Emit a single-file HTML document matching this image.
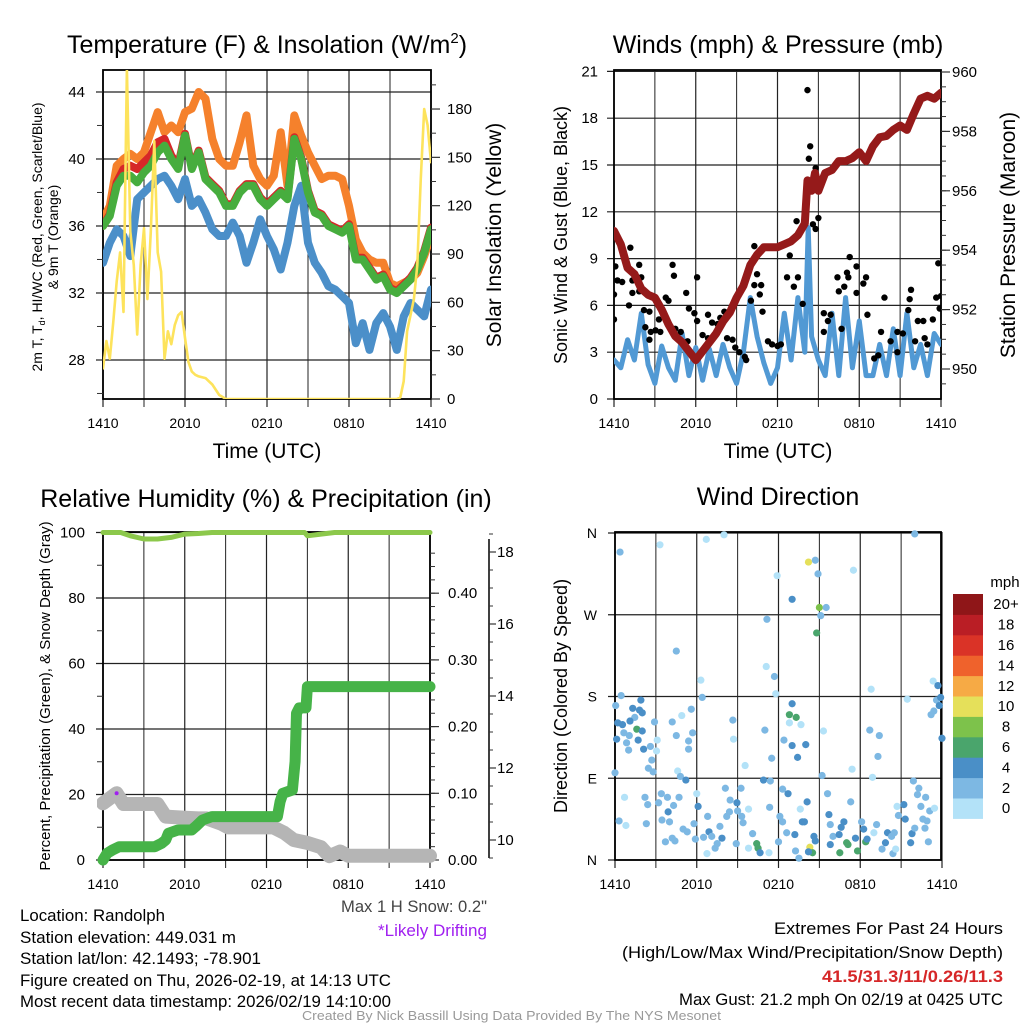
<!DOCTYPE html>
<html><head><meta charset="utf-8"><style>
html,body{margin:0;padding:0;background:#fff;}
svg{display:block;font-family:"Liberation Sans",sans-serif;}
</style></head><body>
<svg id="chart" xmlns="http://www.w3.org/2000/svg" width="1024" height="1024" viewBox="0 0 1024 1024">
<defs>
<clipPath id="c1"><rect x="103" y="70" width="328" height="329"/></clipPath>
<clipPath id="c2"><rect x="614" y="70" width="327" height="329"/></clipPath>
<clipPath id="c3"><rect x="97" y="526" width="340" height="340"/></clipPath>
<clipPath id="c4"><rect x="610" y="528" width="336" height="336"/></clipPath>
</defs>
<rect width="1024" height="1024" fill="#fff"/>
<text x="267" y="53" font-size="25" text-anchor="middle">Temperature (F) &amp; Insolation (W/m<tspan font-size="15" dy="-10">2</tspan><tspan dy="10">)</tspan></text>
<text x="778" y="53" font-size="25" text-anchor="middle">Winds (mph) &amp; Pressure (mb)</text>
<text x="266" y="507" font-size="25" text-anchor="middle">Relative Humidity (%) &amp; Precipitation (in)</text>
<text x="778" y="505" font-size="25" text-anchor="middle">Wind Direction</text>
<text x="267" y="458" font-size="21" text-anchor="middle">Time (UTC)</text>
<text x="778" y="458" font-size="21" text-anchor="middle">Time (UTC)</text>
<text transform="translate(42,237) rotate(-90)" font-size="14" text-anchor="middle">2m T, T<tspan font-size="9" dy="3">d</tspan><tspan dy="-3">, HI/WC (Red, Green, Scarlet/Blue)</tspan></text>
<text transform="translate(58,237) rotate(-90)" font-size="14" text-anchor="middle">&amp; 9m T (Orange)</text>
<text transform="translate(501,235) rotate(-90)" font-size="21" text-anchor="middle">Solar Insolation (Yellow)</text>
<text transform="translate(567,235) rotate(-90)" font-size="18" text-anchor="middle">Sonic Wind &amp; Gust (Blue, Black)</text>
<text transform="translate(1015,235) rotate(-90)" font-size="21" text-anchor="middle">Station Pressure (Maroon)</text>
<text transform="translate(50,696) rotate(-90)" font-size="15" text-anchor="middle">Percent, Precipitation (Green), &amp; Snow Depth (Gray)</text>
<text transform="translate(567,696) rotate(-90)" font-size="18" text-anchor="middle">Direction (Colored By Speed)</text>
<g font-size="17">
<text x="20" y="921" textLength="145" lengthAdjust="spacingAndGlyphs">Location: Randolph</text>
<text x="20" y="943" textLength="216" lengthAdjust="spacingAndGlyphs">Station elevation: 449.031 m</text>
<text x="20" y="964" textLength="241" lengthAdjust="spacingAndGlyphs">Station lat/lon: 42.1493; -78.901</text>
<text x="20" y="986" textLength="371" lengthAdjust="spacingAndGlyphs">Figure created on Thu, 2026-02-19, at 14:13 UTC</text>
<text x="20" y="1007" textLength="371" lengthAdjust="spacingAndGlyphs">Most recent data timestamp: 2026/02/19 14:10:00</text>
<text x="341" y="912" textLength="146" lengthAdjust="spacingAndGlyphs" fill="#444">Max 1 H Snow: 0.2"</text>
<text x="378" y="936" textLength="109" lengthAdjust="spacingAndGlyphs" fill="#a020f0">*Likely Drifting</text>
<text x="774" y="934" textLength="229" lengthAdjust="spacingAndGlyphs">Extremes For Past 24 Hours</text>
<text x="622" y="958" textLength="381" lengthAdjust="spacingAndGlyphs">(High/Low/Max Wind/Precipitation/Snow Depth)</text>
<text x="822" y="982" textLength="181" lengthAdjust="spacingAndGlyphs" fill="#d62728" font-weight="bold">41.5/31.3/11/0.26/11.3</text>
<text x="679" y="1005" textLength="324" lengthAdjust="spacingAndGlyphs">Max Gust: 21.2 mph On 02/19 at 0425 UTC</text>
</g>
<text x="302" y="1020" font-size="13" textLength="419" lengthAdjust="spacingAndGlyphs" fill="#999">Created By Nick Bassill Using Data Provided By The NYS Mesonet</text>
</svg>
<script>
// ===== Panel 1 data =====
const tempH=[0,0.5,1,1.5,2,2.5,3,3.5,4,4.5,5,5.5,6,6.5,7,7.5,8,8.5,9,9.5,10,10.5,11,11.5,12,12.5,13,13.5,14,14.5,15,15.5,16,16.5,17,17.5,18,18.5,19,19.5,20,20.5,21,21.5,22,22.5,23,23.5,24];
const temp9m=[36.4,37.2,39.6,40,40.3,40,40.4,41.6,42.8,41.6,42,41.6,42.8,43,44,43.6,41.2,40,39.6,39.6,41,42.6,39.6,38.8,38.4,39,41.6,38.4,42.6,41.4,40.4,39.6,38.8,39,39,38.8,37.2,35.2,34.4,34,33.8,33.8,32.6,32.4,32.6,32.8,33.2,34.2,35.4];
const temp2m=[36.0,36.7,38.6,39.4,39.6,39.4,39.8,40.2,41,41.2,40.2,39.6,41.5,39.5,40.5,38.9,38.5,38.1,37.3,37.3,38.1,38.5,38.5,37.7,37.3,37.7,38.1,37.7,41.3,40.1,38.1,36.9,36.7,36.1,35.9,35.7,36.1,34.1,34.1,33.5,32.9,33.1,32.3,32.1,32.5,32.9,33.5,34.5,35.9];
const tempHiWc=[36.0,36.6,38.4,39,39,38.6,39.2,39.6,40.4,40.8,40,39.4,41.4,39.4,40.4,38.8,38.4,38,37.2,37.2,38,38.4,38.4,37.6,37.2,37.6,38,37.6,41.2,40,38,36.8,36.6,36,35.8,35.6,36,34,34,33.4,32.8,33,32.2,32,32.4,32.8,33.4,34.4,35.8];
const dewpt=[33.8,35,35.8,35.4,34.2,37.6,38,38.4,38.8,39,38.4,37.6,38.8,37.2,37.6,36.8,35.8,35.4,35.4,36.2,35.4,33.8,35,36.4,35.4,34.6,33.4,35,37.2,38.4,35,33.8,33.2,32.4,32.2,31.8,31.4,29,30.2,28.6,30.2,30.8,30,28.6,30.6,31.4,31,30.6,32.2];
const solarH=[0,0.25,0.5,0.75,1,1.25,1.5,1.75,2,2.25,2.5,2.75,3,3.25,3.5,3.75,4,4.25,4.5,4.75,5,5.25,5.5,5.75,6,6.25,6.5,6.75,7,7.5,8,8.5,9,21.5,21.75,22,22.25,22.5,22.75,23,23.25,23.5,23.75,24];
const solarV=[19,36,25,48,73,91,54,205,104,83,40,83,106,62,104,160,91,79,25,42,34,46,52,54,38,23,17,15,14,13,9,2.5,0,0,1,11,42,52,62,83,137,180,170,147];
const tempTicks=[28,32,36,40,44];
const solarTicks=[0,30,60,90,120,150,180];
const timeLabels=["1410","2010","0210","0810","1410"];
// ===== Panel 2 data =====
const presH=[0,0.5,1,1.5,2,2.5,3,3.5,4,4.5,5,5.5,6,6.5,7,7.5,8,8.5,9,9.5,10,10.5,11,11.5,12,12.5,13,13.5,14,14.2,14.5,14.75,15,15.5,16,16.5,17,17.5,18,18.5,19,19.5,20,20.5,21,21.5,22,22.5,23,23.5,24];
const presV=[954.65,954.2,953.4,953.2,952.7,952.5,952.4,952.0,951.5,951.1,950.9,950.6,950.3,950.6,950.9,951.2,951.6,951.9,952.4,952.8,953.5,953.85,954.1,954.1,954.1,954.2,954.3,954.5,954.9,956.35,956.0,956.6,956.0,956.6,956.7,957.0,957.0,957.1,957.3,957.0,957.5,957.8,957.85,958.05,958.2,958.05,958.6,959.1,959.2,959.1,959.3];
const windH=[0,0.5,1,1.5,2,2.5,3,3.5,4,4.5,5,5.5,6,6.5,7,7.5,8,8.5,9,9.5,10,10.5,11,11.5,12,12.5,13,13.5,14,14.25,14.5,15,15.5,16,16.5,17,17.5,18,18.5,19,19.5,20,20.5,21,21.5,22,22.5,23,23.5,24];
const windV=[2.5,2,3.8,2.5,5.5,2.2,1,3.4,2,1.2,4.2,1.5,3.3,1.2,3.2,1.5,3.5,2,1,3,6.5,4,2.3,1,2,5.5,2.5,6.5,3,11,4,2.5,1.5,5.5,1.5,6.5,2,5,1.5,1.5,3.5,1.5,4.5,1.5,5.5,2,3.5,1.5,4.2,3.5];
const gustH=[0,0.1,0.25,0.6,0,1.1,1.2,1.35,1.35,1.85,2.0,1.85,2.2,2.6,2.3,2.7,2.6,3.05,3.4,3.3,3.8,4.0,4.3,4.4,4.5,4.9,5.3,5.5,5.9,6.1,6.1,6.5,6.9,7.2,7.6,7.8,8.1,8.3,8.7,8.9,9.2,9.6,9.7,10.05,10.3,10.5,10.8,10.7,10.9,11.3,11.6,12.0,12.25,12.7,12.9,13.2,13.4,13.5,13.85,14.2,14.4,14.3,14.8,15.0,14.8,14.6,15.4,15.7,15.9,16.4,16.5,16.9,17.1,17.3,17.2,17.8,17.8,18.3,18.5,18.6,19.1,19.4,19.85,19.6,20.3,20.8,21.2,21.6,21.7,21.8,22.3,22.7,22.8,23.0,23.4,23.65,23.8,23.9,24,16.7,15.4,10.3,22.1,20.8,5.4,6.9];
const gustV=[6.7,8.5,7.6,7.5,5.1,6.0,9.7,7.6,6.8,8.6,7.8,6.9,5.7,5.6,4.6,4.3,3.8,4.4,4.3,5.1,6.5,6.3,8.6,7.9,4.5,4.3,6.8,5.8,5.5,5.0,7.8,4.1,5.4,4.9,4.8,5.2,5.6,3.9,3.8,3.3,3.0,2.7,2.5,6.3,9.8,8.0,7.3,6.7,5.6,3.7,3.5,3.4,3.5,7.8,9.2,7.2,11.4,7.8,6.1,19.8,16.2,15.4,14.8,11.6,10.9,11.2,5.5,5.0,5.4,7.8,6.9,7.2,8.1,9.1,7.8,8.5,6.8,7.4,7.8,5.4,2.6,2.8,6.5,4.3,3.7,3.0,4.2,5.7,6.4,7.0,5.0,5.0,3.9,3.5,5.1,6.5,8.7,5.8,6.6,4.5,4.3,7.3,3.7,4.3,3.7,3.9];
const windTicks=[0,3,6,9,12,15,18,21];
const presTicks=[950,952,954,956,958,960];
// ===== Panel 3 data =====
const rhH=[0,1.3,2,3,4,5,6,7,8,14.8,15,16,17,24];
const rhV=[100,100,99,98,98,98.5,99.5,99.7,100,100,99,99.5,100,100];
const precipH=[0,0.3,0.7,1.2,3.8,4.3,4.6,4.8,5.5,6.5,6.8,7.3,8,12.5,12.8,13.0,13.2,13.9,14.1,14.2,14.4,14.9,15.0,24];
const precipV=[0,0.01,0.015,0.02,0.02,0.025,0.03,0.04,0.045,0.045,0.05,0.06,0.065,0.065,0.065,0.0875,0.1,0.105,0.1475,0.22,0.228,0.228,0.26,0.26];
const snowH=[0,1,1.5,4,4.6,6,7,7.6,8.7,9.2,12.5,13.3,14,15,16,16.6,17.4,18,24];
const snowV=[11.02,11.3,11.0,11.0,10.65,10.62,10.6,10.6,10.45,10.35,10.35,10.2,10.0,9.92,9.8,9.55,9.68,9.56,9.56];
const driftH=[1];
const driftV=[11.3];
const pctTicks=[0,20,40,60,80,100];
const precipTicks=[0,0.1,0.2,0.3,0.4];
const precipLabels=["0.00","0.10","0.20","0.30","0.40"];
const snowTicks=[10,12,14,16,18];
// ===== Panel 4 data =====
const dirH=[0.37,3.3,6.7,8,14.2,14.7,14.9,11.9,17.5,22,13,15,15.5,15.1,14.8,11.15,4.5,11.1,11.7,6.3,11.8,6.4,0.45,0.05,1.9,1.3,1.8,2.0,1.45,1.1,0.2,0.55,1.6,2.0,0.65,1.05,0.12,1.7,0.85,1.0,2.1,2.6,2.7,2.45,2.8,0,2.9,3.1,3.05,4.2,4.9,5.6,4.5,5.7,5.4,5.4,4.6,4.8,5.2,8.65,8.7,9.55,11,11.5,12.4,13,12.8,13.3,12.8,13.65,13,14,13.4,15.3,15.2,17.4,18.7,19.4,19.3,18.8,18.9,21.45,23.35,23.7,23.6,23.9,23.8,23.4,23.2,24,
0.7,2.2,2.4,0.3,0.8,2.3,3.4,3.85,3.2,4.7,4.3,3.9,3.45,4.0,3.7,4.2,4.4,5.0,5.3,5.8,6.0,6.1,6.8,5.9,6.5,6.9,7.1,6.75,7.35,7.5,7.85,7.7,8.1,8.45,8.4,8.2,8.95,9.25,9.0,9.3,9.4,9.8,10.1,8.9,9.8,10.4,10.5,10.65,11.3,11.35,10.9,11.4,12.1,12.3,12.0,12.6,13.2,13.25,13.5,12.3,12.7,13.6,13.75,13.9,14.1,14.6,14.7,14.3,14.5,14.2,15.6,15.7,15.8,16,15.8,16.45,16.6,16.8,17,17.1,16.5,17.3,17.65,17.8,18.1,18.25,18.4,18.5,19,19.2,19.6,19.85,20,20.3,20.5,20.4,20.6,20.7,20.8,21.2,21.3,21.7,21.8,21.9,22.2,22.3,22.8,22.45,23.1,23.45,22.6,22.9,22.75,23.0,22.0];
const dirDeg=[339,347,353,358,328,330,315,313,319,359,287,278,278,269,250,265,230,213,202,198,183,179,181,170,176,167,165,162,157,153,151,149,144,142,140,137,133,132,129,121,122,125,110,101,97,96,152,132,120,152,159,166,137,140,131,122,98,92,88,154,133,104,143,112,132,172,160,157,151,149,126,127,113,142,93,100,143,137,114,188,91,177,197,192,176,179,170,164,160,134,
69,69,61,43,38,40,73,69,63,69,60,53,44,42,20,24,21,34,31,40,73,59,48,23,25,31,26,7,13,18,24,37,79,66,53,48,63,79,54,48,41,56,29,18,13,18,13,8,8,58,88,87,48,42,20,30,28,10,2,78,73,56,42,42,64,26,21,14,8,9,73,50,39,26,17,28,36,42,19,17,8,64,24,10,42,34,20,23,30,39,12,19,30,26,30,7,12,59,49,61,45,19,29,87,72,79,69,59,54,57,45,43,35,20,35];
const dirSpd=[2,1,1,0,10,3,2,1,0,2,4,8,3,2,6,2,2,1,2,1,1,2,2,2,4,4,4,4,2,4,4,4,6,4,2,2,4,4,2,2,4,2,2,2,2,2,2,1,1,2,1,2,2,2,2,2,1,2,4,2,1,1,2,2,2,4,6,6,1,1,4,4,4,1,2,1,2,2,2,1,1,1,1,4,2,4,4,2,2,4,
1,2,2,2,1,2,2,2,2,2,2,4,2,2,2,2,2,2,2,2,1,4,2,2,2,4,2,1,2,2,4,2,2,2,2,2,4,2,2,2,2,1,2,2,1,6,6,4,1,2,4,2,2,2,2,2,4,2,2,2,4,1,4,4,4,4,4,10,6,4,2,4,2,2,4,4,4,4,6,6,6,2,4,6,2,4,6,4,1,2,2,4,4,2,2,2,1,1,2,4,4,4,4,2,2,2,2,2,2,1,2,2,2,2,2];
const dirTicks=[0,90,180,270,360];
const dirLabels=["N","E","S","W","N"];
const speedBins=["0","2","4","6","8","10","12","14","16","18","20+"];
const speedColors=["#b3e2f8","#7db8e3","#4a8fc7","#4aa56c","#7dc24b","#e5e05a","#f6aa45","#ef622c","#da3327","#ba1e25","#8f1618"];

const NS="http://www.w3.org/2000/svg";
const svg=document.getElementById("chart");
function mk(tag,attrs,parent){const e=document.createElementNS(NS,tag);for(const k in attrs)e.setAttribute(k,attrs[k]);(parent||svg).appendChild(e);return e;}
function pts(xs,ys,fx,fy){return xs.map((h,i)=>fx(h).toFixed(1)+","+fy(ys[i]).toFixed(1)).join(" ");}

const x1=h=>103+h*328/24, yT=v=>399-(v-25.67)*67/4, yS=w=>399-w*48.33/30;
const x2=h=>614+h*327/24, yW=v=>399-v*15.6, yP=p=>369-(p-950)*29.7;
const x3=h=>103+h*327/24, yR=v=>860-v*3.275, yPr=v=>860-v*667, ySn=v=>840-(v-10)*36;
const x4=h=>615+h*327/24, yD=d=>860-d*327/360;

function frame(name,L,T,R,B,hVals,hFn,xFn){
  const g=mk("g",{});
  
  
  for(let h=0;h<=24;h+=3){
    const gl=mk("line",{x1:xFn(h),x2:xFn(h),y1:T,y2:B+8,stroke:"#222","stroke-width":h%6===0?1.2:1},g);
    
    
  }
  hVals.forEach(v=>{
    const hl=mk("line",{x1:L-7,x2:R,y1:hFn(v),y2:hFn(v),stroke:"#222","stroke-width":1.2},g);
    
    
  });
  const b=mk("rect",{x:L,y:T,width:R-L,height:B-T,fill:"none",stroke:"#000","stroke-width":1.8},g);
  
  
  timeLabels.forEach((s,i)=>{
    const t=mk("text",{x:xFn(i*6),y:B+29,"font-size":14,"text-anchor":"middle"});
    t.textContent=s;
    
    
  });
}
function lbl(name,x,y,s,anchor,size){
  const t=mk("text",{x:x,y:y+5,"font-size":size||14,"text-anchor":anchor});
  t.textContent=s;
  
  
}
function tick(name,x1,x2,y,w){
  const l=mk("line",{x1:x1,x2:x2,y1:y,y2:y,stroke:"#333","stroke-width":w||1});
  
  
}
function poly(name,xs,ys,fx,fy,color,w,clip){
  const p=mk("polyline",{points:pts(xs,ys,fx,fy),fill:"none",stroke:color,"stroke-width":w,"stroke-linejoin":"round","stroke-linecap":"round","clip-path":"url(#"+clip+")"});
  
  
}

// Panel 1
frame("temp",103,70,431,399,tempTicks,yT,x1);
tempTicks.forEach(v=>lbl('temp-y-tick-label',85,yT(v),String(v),"end",15));
for(let v=26;v<=44;v+=2){tick('temp-y-minor-tick',97,103,yT(v));}
solarTicks.forEach(v=>{lbl('solar-y-tick-label',447,yS(v),String(v),"start",15);tick('solar-y-tick',431,440,yS(v),1.2);});
for(let v=15;v<=195;v+=30){tick('solar-y-minor-tick',431,436,yS(v));}
poly('series-9m-temp-orange',tempH,temp9m,x1,yT,"#f5812c",8,"c1");
poly('series-dewpoint-blue',tempH,dewpt,x1,yT,"#4b8fc9",8,"c1");
poly('series-2m-temp-red',tempH,temp2m,x1,yT,"#d62728",8,"c1");
poly('series-hiwc-green',tempH,tempHiWc,x1,yT,"#47ad3e",8,"c1");
poly('series-solar-yellow',solarH,solarV,x1,yS,"#fde35c",2.6,"c1");

// Panel 2
frame("winds",614,70,941,399,windTicks,yW,x2);
windTicks.forEach(v=>lbl('wind-y-tick-label',598,yW(v),String(v),"end",15));
presTicks.forEach(v=>{lbl('pressure-y-tick-label',952,yP(v),String(v),"start",15);tick('pressure-y-tick',941,950,yP(v),1.2);});
for(let v=949.5;v<=960;v+=0.5){tick('pressure-y-minor-tick',941,946,yP(v));}
poly('series-sonic-wind-blue',windH,windV,x2,yW,"#5199d4",5,"c2");
gustH.forEach((h,i)=>{
  const c=mk("circle",{cx:x2(h),cy:yW(gustV[i]),r:3.2,fill:"#000","clip-path":"url(#c2)"});
  
  
});
poly('series-pressure-maroon',presH,presV,x2,yP,"#951a1a",8,"c2");

// Panel 3
frame("humidity",103,532,430,860,pctTicks,yR,x3);
pctTicks.forEach(v=>lbl('percent-y-tick-label',85,yR(v),String(v),"end",15));
for(let v=10;v<=90;v+=20){tick('percent-y-minor-tick',97,103,yR(v));}
precipTicks.forEach((v,i)=>{lbl('precip-y-tick-label',448,yPr(v),precipLabels[i],"start",15);tick('precip-y-tick',430,439,yPr(v),1.2);});
for(let v=0.02;v<0.48;v+=0.02){tick('precip-y-minor-tick',430,435,yPr(v));}
const sa=mk("line",{x1:489,x2:489,y1:539,y2:858,stroke:"#000","stroke-width":1.5});


snowTicks.forEach(v=>{lbl('snow-y-tick-label',497,ySn(v),String(v),"start",15);tick('snow-y-tick',489,496,ySn(v),1.2);});
for(let v=9.5;v<=18.5;v+=0.5){tick('snow-y-minor-tick',489,493,ySn(v));}
poly('series-snow-depth-gray',snowH,snowV,x3,ySn,"#b5b5b5",14,"c3");
poly('series-precip-green',precipH,precipV,x3,yPr,"#46b348",11,"c3");
poly('series-rh-lightgreen',rhH,rhV,x3,yR,"#8cc84b",5,"c3");
driftH.forEach((h,i)=>{
  const d=mk("circle",{cx:x3(h),cy:ySn(driftV[i]),r:2,fill:"#a020f0"});
  
  
});

// Panel 4
frame("direction",615,532,941,860,dirTicks,yD,x4);
dirTicks.forEach((v,i)=>lbl('direction-y-tick-label',597,yD(v),dirLabels[i],"end",14));
dirH.forEach((h,i)=>{
  const b=Math.min(10,Math.floor(dirSpd[i]/2));
  const c=mk("circle",{cx:x4(h),cy:yD(dirDeg[i]),r:3.6,fill:speedColors[b],"clip-path":"url(#c4)"});
  
  
});
const cbTop=594, cbH=20.4;
const cbTitle=mk("text",{x:1005,y:587,"font-size":15,"text-anchor":"middle"});
cbTitle.textContent="mph";


speedBins.forEach((s,i)=>{
  const k=speedBins.length-1-i;
  const r=mk("rect",{x:953,y:cbTop+k*cbH,width:30,height:cbH+0.5,fill:speedColors[i]});
  
  
  const t=mk("text",{x:1006,y:cbTop+k*cbH+cbH/2+5,"font-size":15,"text-anchor":"middle"});
  t.textContent=s;
  
  
});
</script>
</body></html>
